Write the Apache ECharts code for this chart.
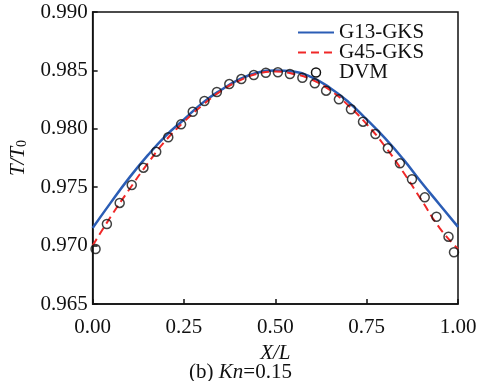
<!DOCTYPE html>
<html>
<head>
<meta charset="utf-8">
<script src="https://cdn.jsdelivr.net/npm/echarts@6/dist/echarts.min.js"></script>
<style>html,body{margin:0;padding:0;background:#fff}#c{width:481px;height:381px}</style>
</head>
<body>
<div id="c"></div>
<script>
// Data
var curveX = [0, 0.05, 0.10, 0.15, 0.20, 0.25, 0.30, 0.35, 0.40, 0.45, 0.50, 0.55, 0.60, 0.65, 0.70, 0.75, 0.80, 0.85, 0.90, 0.95, 1.00];
var g13 = [0.9715, 0.9737, 0.9758, 0.9777, 0.9794, 0.9808, 0.9822, 0.9833, 0.9842, 0.9848, 0.9850, 0.9849, 0.9844, 0.9835, 0.9823, 0.9808, 0.9792, 0.9774, 0.9754, 0.9735, 0.9716];
var g45 = [0.9700, 0.9725, 0.9748, 0.9770, 0.9790, 0.9806, 0.9820, 0.9832, 0.9841, 0.9847, 0.9849, 0.9847, 0.9842, 0.9833, 0.9820, 0.9804, 0.9785, 0.9763, 0.9739, 0.9715, 0.9697];
var dvmX = [0.008, 0.039, 0.074, 0.107, 0.139, 0.174, 0.207, 0.242, 0.274, 0.306, 0.340, 0.374, 0.407, 0.441, 0.474, 0.507, 0.540, 0.574, 0.608, 0.639, 0.674, 0.707, 0.740, 0.774, 0.808, 0.841, 0.874, 0.909, 0.941, 0.974, 0.989];
var dvmY = [0.96971, 0.97185, 0.97365, 0.97519, 0.97667, 0.97804, 0.97927, 0.98038, 0.98146, 0.98238, 0.98315, 0.98383, 0.98426, 0.98460, 0.98480, 0.98484, 0.98469, 0.98437, 0.98389, 0.98326, 0.98252, 0.98167, 0.98061, 0.97955, 0.97833, 0.97704, 0.97568, 0.97413, 0.97247, 0.97076, 0.96943];
var seriesNames = ['G13-GKS', 'G45-GKS', 'DVM'];

function zip(a, b) { return a.map(function (v, i) { return [v, b[i]]; }); }

var serif = '"Liberation Serif", "DejaVu Serif", serif';
var ink = '#111';
var fs = 21;
var chart = echarts.init(document.getElementById('c'), null, { renderer: 'canvas' });
chart.setOption({
  backgroundColor: '#fff',
  animation: false,
  grid: { left: 78, right: 23, top: 12, bottom: 77, show: true, borderColor: ink, borderWidth: 1.5, backgroundColor: 'transparent' },
  legend: {
    orient: 'vertical', left: 297, top: 22, padding: 0, itemWidth: 36, itemHeight: 9, itemGap: -1,
    textStyle: { fontFamily: serif, fontSize: fs, color: ink, lineHeight: 19 },
    data: [
      { name: seriesNames[0], itemStyle: { opacity: 0 } },
      { name: seriesNames[1], itemStyle: { opacity: 0 } },
      { name: seriesNames[2], icon: 'circle', itemStyle: { color: 'rgba(0,0,0,0)', borderColor: ink, borderWidth: 1.5, opacity: 1 } }
    ]
  },
  xAxis: {
    type: 'value', min: 0, max: 1, interval: 0.25,
    name: '{i|X/L}', nameLocation: 'middle', nameGap: 25,
    nameTextStyle: { rich: { i: { fontFamily: serif, fontSize: fs, fontStyle: 'italic', color: ink } } },
    axisLine: { show: true, lineStyle: { color: ink, width: 1.5 } },
    axisTick: { show: true, inside: true, length: 5, lineStyle: { color: ink, width: 1.5 } },
    axisLabel: { fontFamily: serif, fontSize: fs, color: ink, margin: 13, formatter: function (v) { return v.toFixed(2); } },
    splitLine: { show: false }
  },
  yAxis: {
    type: 'value', min: 0.965, max: 0.990, interval: 0.005,
    name: '{i|T/T}{s|0}', nameLocation: 'middle', nameGap: 58, nameRotate: 90,
    nameTextStyle: { rich: {
      i: { fontFamily: serif, fontSize: fs, fontStyle: 'italic', color: ink },
      s: { fontFamily: serif, fontSize: 14, color: ink, padding: [8, 0, 0, 0] }
    } },
    axisLine: { show: true, lineStyle: { color: ink, width: 1.5 } },
    axisTick: { show: true, inside: true, length: 5, lineStyle: { color: ink, width: 1.5 } },
    axisLabel: { fontFamily: serif, fontSize: fs, color: ink, margin: 5, formatter: function (v) { return v.toFixed(3); } },
    splitLine: { show: false }
  },
  graphic: [{
    type: 'text', left: 'center', top: 362,
    style: {
      text: '{n|(b) }{i|Kn}{n|=0.15}',
      rich: {
        n: { fontFamily: serif, fontSize: fs, fill: ink },
        i: { fontFamily: serif, fontSize: fs, fontStyle: 'italic', fill: ink }
      }
    }
  }],
  series: [
    { name: seriesNames[0], type: 'line', smooth: true, symbol: 'none', data: zip(curveX, g13), lineStyle: { color: '#2b5db5', width: 2.5 }, itemStyle: { color: '#2b5db5' }, z: 2 },
    { name: seriesNames[1], type: 'line', smooth: true, symbol: 'none', data: zip(curveX, g45), lineStyle: { color: '#f02828', width: 2, type: [8, 5] }, itemStyle: { color: '#f02828' }, z: 3 },
    { name: seriesNames[2], type: 'scatter', symbol: 'circle', symbolSize: 9, data: zip(dvmX, dvmY), itemStyle: { color: 'rgba(0,0,0,0)', borderColor: ink, borderWidth: 1.5 }, z: 4 }
  ]
});
</script>
</body>
</html>
